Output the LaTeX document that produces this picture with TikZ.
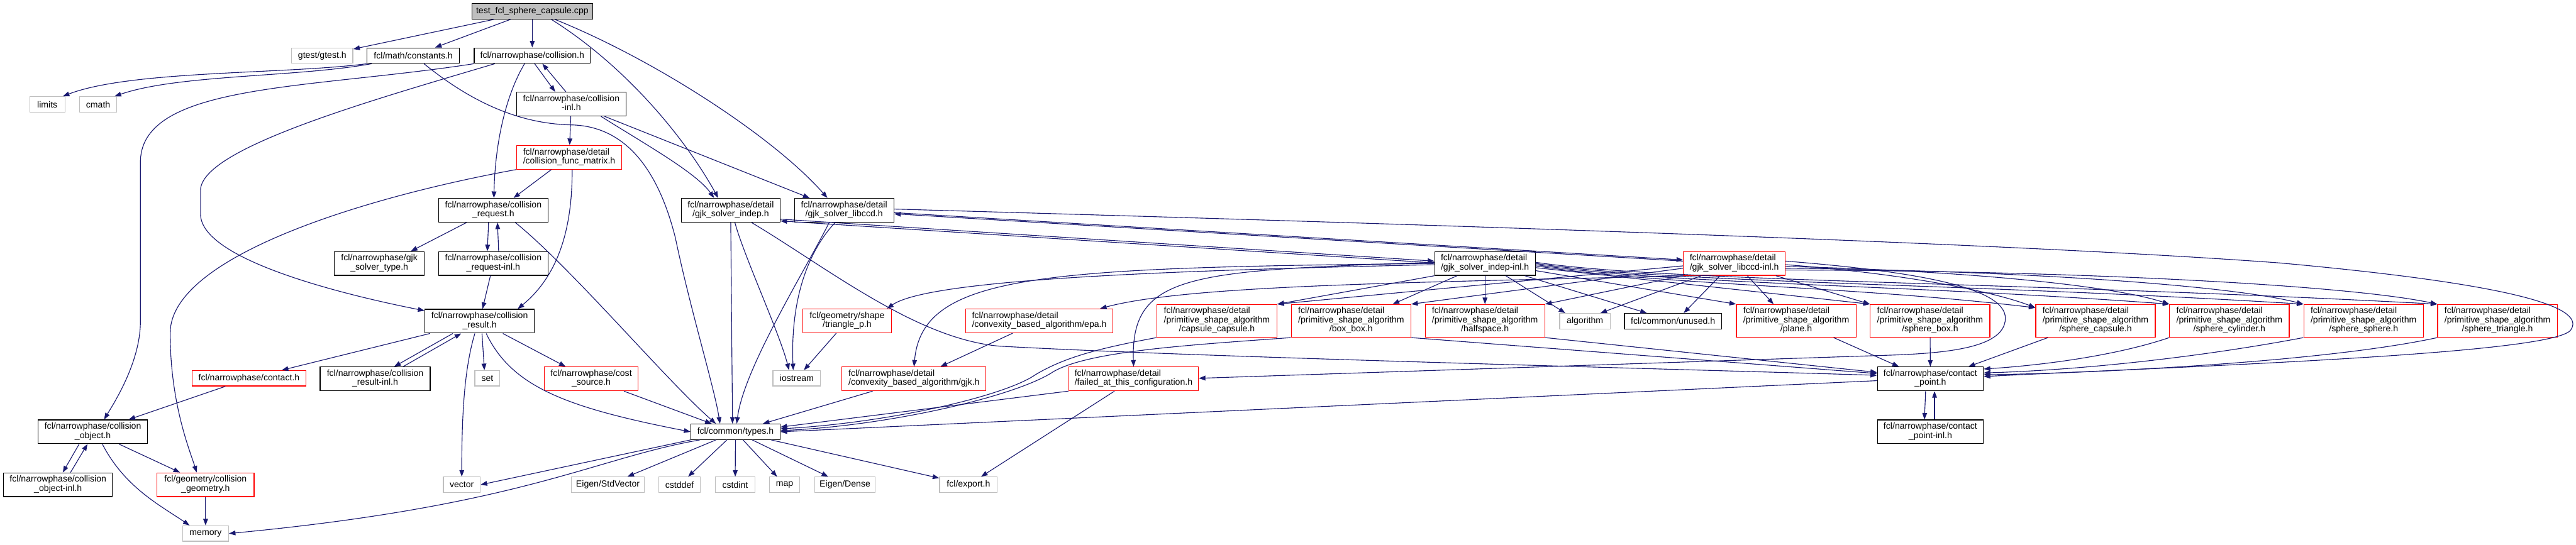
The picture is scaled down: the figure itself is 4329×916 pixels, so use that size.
\documentclass[tikz,border=0pt]{standalone}
\usepackage{fontspec}
\setmainfont{Liberation Sans}
\usetikzlibrary{arrows.meta}
\definecolor{edgeblue}{HTML}{191970}
\definecolor{grey75}{HTML}{BFBFBF}
\newcommand{\twolines}[2]{\begin{tabular}{@{}l@{}}#1\\\multicolumn{1}{@{}c@{}}{#2}\end{tabular}}
\newcommand{\threelines}[3]{\begin{tabular}{@{}l@{}}#1\\#2\\\multicolumn{1}{@{}c@{}}{#3}\end{tabular}}
\begin{document}
\begin{tikzpicture}[x=1pt, y=-1pt,
    hdr/.style={draw=black, fill=white, line width=1.3pt, inner sep=0pt, minimum height=26pt,
        font=\fontsize{14.9}{15}\selectfont},
    syshdr/.style={hdr, draw=grey75},
    cuthdr/.style={hdr, draw=red},
    roothdr/.style={hdr, fill=grey75},
    tworow/.style={minimum height=40pt},
    threerow/.style={minimum height=55pt},
    dep/.style={draw=edgeblue, line width=1.2pt, -{Triangle[length=11pt, width=8pt]}}]
    \fill[white] (0,0) rectangle (4329,916);
    \useasboundingbox (0,0) rectangle (4329,916);

    % Top rows
    \node[roothdr, minimum width=203pt] (root) at (894.5,19) {test\_fcl\_sphere\_capsule.cpp};
    \node[syshdr, minimum width=103pt] (gtest) at (541.5,93.5) {gtest/gtest.h};
    \node[hdr, minimum width=155pt] (constants) at (694.5,93.5) {fcl/math/constants.h};
    \node[hdr, minimum width=195pt] (collision) at (894.5,93.5) {fcl/narrowphase/collision.h};
    \node[syshdr, minimum width=59pt] (limits) at (79.5,175.5) {limits};
    \node[syshdr, minimum width=62pt] (cmath) at (165,175.5) {cmath};
    \node[hdr, tworow, minimum width=184pt] (collisioninl) at (960,175) {\twolines{fcl/narrowphase/collision}{-inl.h}};
    \node[cuthdr, tworow, minimum width=177pt] (funcmatrix) at (956.5,264.5) {\twolines{fcl/narrowphase/detail}{/collision\_func\_matrix.h}};
    \node[hdr, tworow, minimum width=184pt] (request) at (829,353.5) {\twolines{fcl/narrowphase/collision}{\_request.h}};
    \node[hdr, tworow, minimum width=166pt] (indep) at (1228,353.5) {\twolines{fcl/narrowphase/detail}{/gjk\_solver\_indep.h}};
    \node[hdr, tworow, minimum width=167pt] (libccd) at (1418.5,353.5) {\twolines{fcl/narrowphase/detail}{/gjk\_solver\_libccd.h}};
    \node[hdr, tworow, minimum width=151pt] (solvertype) at (637.5,443) {\twolines{fcl/narrowphase/gjk}{\_solver\_type.h}};
    \node[hdr, tworow, minimum width=184pt] (requestinl) at (829,443) {\twolines{fcl/narrowphase/collision}{\_request-inl.h}};
    \node[hdr, tworow, minimum width=169pt] (indepinl) at (2495.5,443) {\twolines{fcl/narrowphase/detail}{/gjk\_solver\_indep-inl.h}};
    \node[cuthdr, tworow, minimum width=171pt] (libccdinl) at (2914.5,443) {\twolines{fcl/narrowphase/detail}{/gjk\_solver\_libccd-inl.h}};

    % Middle row
    \node[hdr, tworow, minimum width=184pt] (result) at (806,540) {\twolines{fcl/narrowphase/collision}{\_result.h}};
    \node[cuthdr, tworow, minimum width=149pt] (trianglep) at (1423.5,539.5) {\twolines{fcl/geometry/shape}{/triangle\_p.h}};
    \node[cuthdr, tworow, minimum width=247pt] (epa) at (1746.5,539.5) {\twolines{fcl/narrowphase/detail}{/convexity\_based\_algorithm/epa.h}};
    \node[cuthdr, threerow, minimum width=202pt] (capcap) at (2045,539.5) {\threelines{fcl/narrowphase/detail}{/primitive\_shape\_algorithm}{/capsule\_capsule.h}};
    \node[cuthdr, threerow, minimum width=201pt] (boxbox) at (2270.5,539.5) {\threelines{fcl/narrowphase/detail}{/primitive\_shape\_algorithm}{/box\_box.h}};
    \node[cuthdr, threerow, minimum width=201pt] (halfspace) at (2495.5,539.5) {\threelines{fcl/narrowphase/detail}{/primitive\_shape\_algorithm}{/halfspace.h}};
    \node[syshdr, minimum width=85pt] (algorithm) at (2663.5,540) {algorithm};
    \node[hdr, minimum width=163pt] (unused) at (2811.5,540) {fcl/common/unused.h};
    \node[cuthdr, threerow, minimum width=201pt] (plane) at (3018.5,539.5) {\threelines{fcl/narrowphase/detail}{/primitive\_shape\_algorithm}{/plane.h}};
    \node[cuthdr, threerow, minimum width=201pt] (spherebox) at (3243.5,539.5) {\threelines{fcl/narrowphase/detail}{/primitive\_shape\_algorithm}{/sphere\_box.h}};
    \node[cuthdr, threerow, minimum width=201pt] (spherecap) at (3521.5,539.5) {\threelines{fcl/narrowphase/detail}{/primitive\_shape\_algorithm}{/sphere\_capsule.h}};
    \node[cuthdr, threerow, minimum width=201pt] (spherecyl) at (3746.5,539.5) {\threelines{fcl/narrowphase/detail}{/primitive\_shape\_algorithm}{/sphere\_cylinder.h}};
    \node[cuthdr, threerow, minimum width=201pt] (spheresph) at (3972,539.5) {\threelines{fcl/narrowphase/detail}{/primitive\_shape\_algorithm}{/sphere\_sphere.h}};
    \node[cuthdr, threerow, minimum width=201pt] (spheretri) at (4197,539.5) {\threelines{fcl/narrowphase/detail}{/primitive\_shape\_algorithm}{/sphere\_triangle.h}};

    \node[cuthdr, minimum width=191pt] (contact) at (418.5,636) {fcl/narrowphase/contact.h};
    \node[hdr, tworow, minimum width=185pt] (resultinl) at (630.5,637) {\twolines{fcl/narrowphase/collision}{\_result-inl.h}};
    \node[syshdr, minimum width=42pt] (stdset) at (819,636) {set};
    \node[cuthdr, tworow, minimum width=157pt] (costsource) at (993.5,637) {\twolines{fcl/narrowphase/cost}{\_source.h}};
    \node[syshdr, minimum width=80pt] (iostream) at (1339,636) {iostream};
    \node[cuthdr, tworow, minimum width=242pt] (gjk) at (1536,637) {\twolines{fcl/narrowphase/detail}{/convexity\_based\_algorithm/gjk.h}};
    \node[cuthdr, tworow, minimum width=218pt] (failed) at (1905,637) {\twolines{fcl/narrowphase/detail}{/failed\_at\_this\_configuration.h}};
    \node[hdr, tworow, minimum width=178pt] (cpoint) at (3244,637) {\twolines{fcl/narrowphase/contact}{\_point.h}};

    % Bottom rows
    \node[hdr, tworow, minimum width=184pt] (object) at (156,726) {\twolines{fcl/narrowphase/collision}{\_object.h}};
    \node[hdr, minimum width=150pt] (types) at (1236,726) {fcl/common/types.h};
    \node[hdr, tworow, minimum width=178pt] (cpointinl) at (3244,726) {\twolines{fcl/narrowphase/contact}{\_point-inl.h}};
    \node[hdr, tworow, minimum width=183pt] (objectinl) at (97.5,815) {\twolines{fcl/narrowphase/collision}{\_object-inl.h}};
    \node[cuthdr, tworow, minimum width=163pt] (geometry) at (345.5,815) {\twolines{fcl/geometry/collision}{\_geometry.h}};
    \node[syshdr, minimum width=62pt] (vec) at (776,815) {vector};
    \node[syshdr, minimum width=123pt] (eigenstd) at (1021.5,815) {Eigen/StdVector};
    \node[syshdr, minimum width=70pt] (cstddef) at (1142,815) {cstddef};
    \node[syshdr, minimum width=67pt] (cstdint) at (1235.5,815) {cstdint};
    \node[syshdr, minimum width=51pt] (stdmap) at (1318.5,815) {map};
    \node[syshdr, minimum width=102pt] (eigendense) at (1420,815) {Eigen/Dense};
    \node[syshdr, minimum width=97pt] (export) at (1627.5,815) {fcl/export.h};
    \node[syshdr, minimum width=77pt] (memory) at (345.5,897) {memory};

    % From the test file
    \draw[dep] (root) -- (gtest);
    \draw[dep] (root) -- (constants);
    \draw[dep] (root) -- (collision);
    \draw[dep] ([xshift=32]root.south) .. controls (1050,110) and (1150,230) .. ([xshift=-21]indep.north);
    \draw[dep] ([xshift=38]root.south) .. controls (1100,100) and (1300,230) .. ([xshift=-28]libccd.north);

    % constants and collision
    \draw[dep] (constants.south west) .. controls (480,125) and (220,118) .. ([xshift=-4]limits.north east);
    \draw[dep] ([xshift=8]constants.south west) .. controls (500,130) and (300,125) .. ([xshift=-4]cmath.north east);
    \draw[dep] ([xshift=18]constants.south) .. controls (790,170) and (870,208) .. (960,210)
        .. controls (1060,212) and (1110,300) .. (1135,400) .. controls (1160,520) and (1200,650) .. ([xshift=-26]types.north);
    \draw[dep] ([xshift=4]collision.south) -- ([xshift=-27]collisioninl.north);
    \draw[dep] ([xshift=-9]collisioninl.north) -- ([xshift=17]collision.south);
    \draw[dep] ([xshift=-13]collision.south) .. controls (850,160) and (832,240) .. ([xshift=1]request.north);
    \draw[dep] (collision.south west) .. controls (520,150) and (240,140) .. (236,270) -- (236,540)
        .. controls (236,610) and (190,680) .. ([xshift=19]object.north);
    \draw[dep] ([xshift=35]collision.south west) .. controls (620,170) and (337,250) .. (337,320) -- (337,360)
        .. controls (337,440) and (600,500) .. ([yshift=-3]result.north west);

    % collision-inl and func matrix
    \draw[dep] (collisioninl) -- (funcmatrix);
    \draw[dep] ([xshift=50]collisioninl.south) .. controls (1080,240) and (1170,290) .. ([xshift=-28]indep.north);
    \draw[dep] ([xshift=56]collisioninl.south) -- ([xshift=-58]libccd.north);
    \draw[dep] ([xshift=-30]funcmatrix.south) -- ([xshift=34]request.north);
    \draw[dep] ([xshift=5]funcmatrix.south) .. controls (962,400) and (930,470) .. ([xshift=64]result.north);
    \draw[dep] (funcmatrix.south west) .. controls (620,330) and (286,430) .. (286,560)
        .. controls (286,680) and (320,760) .. ([xshift=-15]geometry.north);

    % request and result
    \draw[dep] ([xshift=-45]request.south) -- ([xshift=53]solvertype.north);
    \draw[dep] ([xshift=-8]request.south) -- ([xshift=-10]requestinl.north);
    \draw[dep] ([xshift=9]requestinl.north) -- ([xshift=7]request.south);
    \draw[dep] ([xshift=37]request.south) .. controls (960,450) and (1120,640) .. ([xshift=-33]types.north);
    \draw[dep] (requestinl) -- (result);
    \draw[dep] (result) -- (contact);
    \draw[dep] ([xshift=-45]result.south) -- ([xshift=32]resultinl.north);
    \draw[dep] ([xshift=47]resultinl.north) -- ([xshift=-31]result.south);
    \draw[dep] ([xshift=4]result.south) -- ([xshift=-5]stdset.north);
    \draw[dep] ([xshift=-8]result.south) .. controls (780,620) and (776,700) .. (vec.north);
    \draw[dep] ([xshift=39]result.south) -- ([xshift=-43]costsource.north);
    \draw[dep] ([xshift=11]result.south) .. controls (860,650) and (950,685) .. (types.west);

    % object side
    \draw[dep] (contact) -- (object);
    \draw[dep] ([xshift=-23]object.south) -- ([xshift=8]objectinl.north);
    \draw[dep] ([xshift=21]objectinl.north) -- ([xshift=-9]object.south);
    \draw[dep] ([xshift=44]object.south) -- ([xshift=-43]geometry.north);
    \draw[dep] ([xshift=16]object.south) .. controls (210,820) and (270,850) .. ([xshift=-27]memory.north);
    \draw[dep] (geometry) -- (memory);
    \draw[dep] ([xshift=55]costsource.south) -- ([xshift=-40]types.north);

    % types
    \draw[dep] (types.south west) -- (vec.east);
    \draw[dep] ([xshift=-60]types.south) .. controls (1000,770) and (880,850) .. (memory.east);
    \draw[dep] (types) -- (eigenstd);
    \draw[dep] (types) -- (cstddef);
    \draw[dep] (types) -- (cstdint);
    \draw[dep] (types) -- (stdmap);
    \draw[dep] (types) -- (eigendense);
    \draw[dep] (types) -- (export);

    % gjk solvers
    \draw[dep] (indep.south) -- ([xshift=-5]types.north);
    \draw[dep] ([xshift=7]indep.south) .. controls (1250,430) and (1310,560) .. ([xshift=-13]iostream.north);
    \draw[dep] ([xshift=35]indep.south) .. controls (1390,450) and (1540,570) .. (1680,582)
        .. controls (2000,600) and (2800,620) .. ([yshift=6]cpoint.west);
    \draw[dep] ([yshift=-15]indep.east) -- ([yshift=4]indepinl.west);
    \draw[dep] ([yshift=1]indepinl.west) -- ([yshift=-18]indep.east);
    \draw[dep] ([xshift=-25]libccd.south) .. controls (1350,460) and (1250,620) .. ([xshift=2]types.north);
    \draw[dep] ([xshift=-15]libccd.south) .. controls (1360,420) and (1328,500) .. ([xshift=-6]iostream.north);
    \draw[dep] ([yshift=-4]libccd.east) -- ([yshift=6]libccdinl.west);
    \draw[dep] ([yshift=4]libccdinl.west) -- ([yshift=-6]libccd.east);
    \draw[dep] ([yshift=2]libccd.east) .. controls (2500,380) and (3400,410) .. (3830,442)
        .. controls (4250,480) and (4345,520) .. (4320,555) .. controls (4290,595) and (3700,615) .. ([yshift=4]cpoint.east);

    % gjk_solver_indep-inl
    \draw[dep] ([yshift=-2]indepinl.west) .. controls (1950,455) and (1560,470) .. ([xshift=-8]trianglep.north east);
    \draw[dep] (indepinl.west) .. controls (1750,450) and (1550,460) .. (gjk.north);
    \draw[dep] ([yshift=2]indepinl.west) .. controls (2000,455) and (1900,460) .. (failed.north);
    \draw[dep] (indepinl.south west) -- (capcap.north east);
    \draw[dep] ([xshift=-47]indepinl.south) -- ([xshift=70]boxbox.north);
    \draw[dep] (indepinl.south) -- (halfspace.north);
    \draw[dep] ([xshift=35]indepinl.south) -- ([xshift=-33]algorithm.north);
    \draw[dep] ([xshift=67]indepinl.south) -- ([xshift=-44]unused.north);
    \draw[dep] ([yshift=-12]indepinl.east) -- (plane.north west);
    \draw[dep] ([yshift=-7]indepinl.east) -- (spherebox.north west);
    \draw[dep] ([yshift=-4]indepinl.east) .. controls (2800,480) and (3100,480) .. ([yshift=-6]spherecap.north west);
    \draw[dep] ([yshift=-2]indepinl.east) .. controls (2800,478) and (3200,478) .. (spherecyl.north west);
    \draw[dep] ([yshift=0]indepinl.east) .. controls (2800,476) and (3300,476) .. (spheresph.north west);
    \draw[dep] ([yshift=2]indepinl.east) .. controls (2800,474) and (3400,474) .. (spheretri.north west);

    % gjk_solver_libccd-inl
    \draw[dep] (libccdinl.south west) .. controls (2400,475) and (2000,478) .. ([xshift=-22]epa.north east);
    \draw[dep] ([yshift=-4]libccdinl.west) -- (capcap.north east);
    \draw[dep] ([yshift=-8]libccdinl.west) -- (boxbox.north east);
    \draw[dep] (libccdinl.south west) -- (halfspace.north east);
    \draw[dep] ([xshift=-56]libccdinl.south) -- ([xshift=26]algorithm.north);
    \draw[dep] ([xshift=-24]libccdinl.south) -- ([xshift=18]unused.north);
    \draw[dep] ([xshift=22]libccdinl.south) -- ([xshift=-38]plane.north);
    \draw[dep] ([xshift=70]libccdinl.south) -- (spherebox.north west);
    \draw[dep] ([yshift=-2]libccdinl.east) .. controls (3200,460) and (3350,490) .. ([yshift=-6]spherecap.north west);
    \draw[dep] ([yshift=-5]libccdinl.east) .. controls (3300,455) and (3550,480) .. (spherecyl.north west);
    \draw[dep] ([yshift=-8]libccdinl.east) .. controls (3400,455) and (3750,480) .. (spheresph.north west);
    \draw[dep] ([yshift=-11]libccdinl.east) .. controls (3500,455) and (3950,480) .. (spheretri.north west);
    \draw[dep] ([yshift=4]libccdinl.east) .. controls (3200,455) and (3370,480) .. (3370,535)
        .. controls (3370,590) and (3250,595) .. (3150,598) -- ([yshift=1]failed.east);

    % primitive shape algorithms and the rest
    \draw[dep] (capcap.south west) .. controls (1850,585) and (1790,600) .. (1740,630)
        .. controls (1690,665) and (1500,710) .. ([yshift=5]types.east);
    \draw[dep] (boxbox.south west) .. controls (2000,580) and (1830,590) .. (1770,625)
        .. controls (1710,665) and (1500,715) .. ([yshift=2]types.east);
    \draw[dep] (boxbox.south east) -- ([yshift=9]cpoint.west);
    \draw[dep] (halfspace.south east) -- ([yshift=11]cpoint.west);
    \draw[dep] ([xshift=63]plane.south) -- ([xshift=-53]cpoint.north);
    \draw[dep] (spherebox) -- (cpoint);
    \draw[dep] ([xshift=-80]spherecap.south) -- ([xshift=64]cpoint.north);
    \draw[dep] (spherecyl.south west) .. controls (3550,600) and (3420,615) .. ([yshift=-4]cpoint.north east);
    \draw[dep] (spheresph.south west) .. controls (3700,600) and (3500,622) .. ([yshift=10]cpoint.east);
    \draw[dep] (spheretri.south west) .. controls (3900,610) and (3500,628) .. ([yshift=7]cpoint.east);
    \draw[dep] ([xshift=-8]cpoint.south) -- ([xshift=-10]cpointinl.north);
    \draw[dep] ([xshift=7]cpointinl.north) -- ([xshift=7]cpoint.south);
    \draw[dep] ([yshift=-3]cpoint.west) -- (types.east);
    \draw[dep] (failed.south west) -- ([yshift=8]types.east);
    \draw[dep] (failed) -- (export);
    \draw[dep] (gjk) -- (types);
    \draw[dep] (epa) -- (gjk);
    \draw[dep] (trianglep) -- (iostream);
\end{tikzpicture}
\end{document}
